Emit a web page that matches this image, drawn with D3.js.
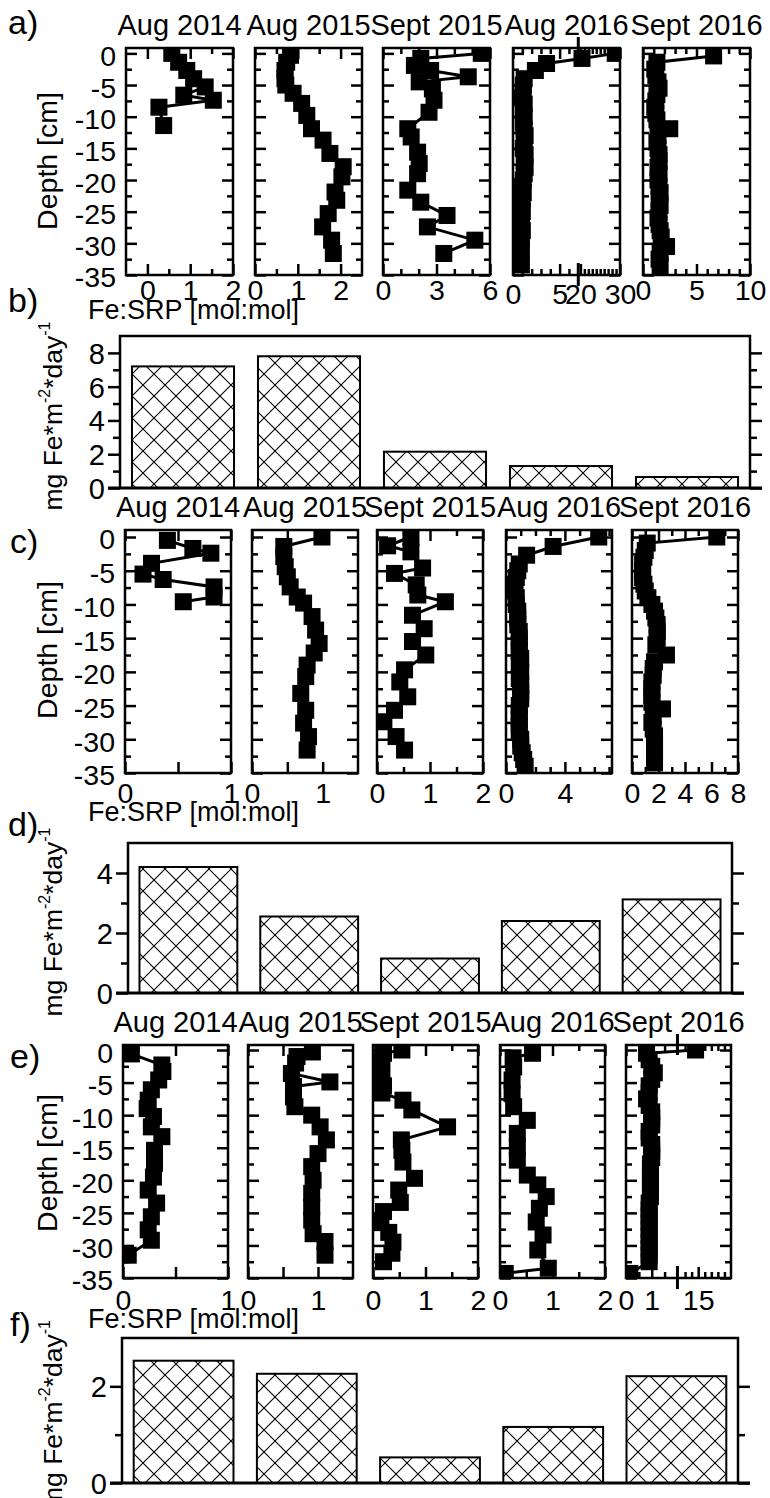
<!DOCTYPE html>
<html><head><meta charset="utf-8">
<script src="https://cdn.jsdelivr.net/npm/d3@7"></script>
<style>
body{margin:0;background:#fff}
svg text{font-family:"Liberation Sans",Arial,Helvetica,sans-serif;fill:#000}
</style>
</head><body>
<svg id="chart" width="770" height="1498"></svg>
<script>
// ---------------- DATA ----------------
const sampleTitles = ["Aug 2014","Aug 2015","Sept 2015","Aug 2016","Sept 2016"];
const depthTicks = [0,-5,-10,-15,-20,-25,-30,-35];
const depthMinorTicks = [-2.5,-7.5,-12.5,-17.5,-22.5,-27.5,-32.5];
const depthAxisLabel = "Depth [cm]";
const ratioAxisLabel = "Fe:SRP [mol:mol]";

// profiles: [depth (cm), Fe:SRP (mol:mol)]
const a_Aug2014 = [[0,0.57],[-1.4,0.73],[-2.7,0.92],[-4,1.08],[-5.3,1.35],[-6.6,0.85],[-7.4,1.54],[-8.5,0.27],[-11.4,0.38]];
const a_Aug2015 = [[-0.3,0.83],[-1.4,0.74],[-2.7,0.70],[-4,0.70],[-5,0.72],[-6.3,0.89],[-7.9,1.09],[-9.8,1.21],[-11.9,1.32],[-13.7,1.59],[-15.8,1.75],[-17.9,2.06],[-19.5,2.03],[-21.9,1.87],[-23.2,1.91],[-25.3,1.71],[-27.4,1.58],[-29.5,1.79],[-31.6,1.83]];
const a_Sept2015 = [[0,5.51],[-0.8,2.12],[-1.9,1.76],[-2.7,2.67],[-3.7,4.78],[-4.5,2.03],[-5.6,2.77],[-7.4,2.86],[-9.3,2.58],[-11.9,1.39],[-13.2,1.58],[-15.6,1.94],[-17.4,2.03],[-19,1.94],[-21.6,1.39],[-23.5,2.12],[-25.6,3.59],[-27.4,2.49],[-29.5,5.15],[-31.6,3.41]];
const a_Aug2016 = [[0,28.8],[-0.8,20.4],[-1.6,3.6],[-2.7,2.4],[-4,1.2],[-5,1.1],[-6,1.1],[-7,1.0],[-8,1.2],[-9,1.1],[-10,1.2],[-11,1.1],[-12,1.2],[-13,1.3],[-14,1.2],[-15,1.1],[-16,1.3],[-17,1.2],[-18,1.3],[-19,1.2],[-20,1.1],[-21,1.0],[-22,1.1],[-23,1.0],[-24,0.9],[-25,1.0],[-26,0.9],[-27,0.9],[-28,1.0],[-29,0.9],[-30,0.8],[-31,0.9],[-32,0.8],[-33.4,0.9]];
const a_Sept2016 = [[-0.4,6.6],[-1.4,1.3],[-2.5,1.1],[-3.5,1.2],[-4.5,1.4],[-5.5,1.5],[-6.5,1.3],[-7.5,1.2],[-8.5,1.1],[-9.5,1.2],[-10.5,1.3],[-11.9,2.5],[-13,1.4],[-14,1.3],[-15,1.4],[-16,1.5],[-17,1.5],[-18,1.4],[-19,1.5],[-20,1.4],[-21,1.5],[-22,1.6],[-23,1.5],[-24,1.6],[-25,1.5],[-26,1.4],[-27,1.5],[-28,1.6],[-29,1.7],[-30.5,2.2],[-31.5,1.6],[-32.5,1.5],[-33.5,1.6]];

const c_Aug2014 = [[-0.5,0.40],[-1.7,0.64],[-2.4,0.81],[-3.9,0.25],[-5.5,0.17],[-6.3,0.36],[-7.4,0.84],[-8.9,0.84],[-9.6,0.55]];
const c_Aug2015 = [[0,0.99],[-1.4,0.45],[-2.9,0.45],[-4.4,0.47],[-5.9,0.50],[-7.4,0.54],[-8.9,0.64],[-9.8,0.73],[-11.8,0.85],[-13.8,0.90],[-15.8,0.95],[-17.2,0.88],[-19,0.78],[-20.7,0.76],[-23.2,0.69],[-25.7,0.76],[-27.6,0.73],[-29.6,0.80],[-31.6,0.78]];
const c_Sept2015 = [[0,0.64],[-1.3,0.2],[-2.2,0.64],[-4.6,0.86],[-5.4,0.33],[-7.1,0.74],[-8.6,0.77],[-9.6,1.29],[-11.6,0.67],[-13.6,0.89],[-15.5,0.67],[-17.5,0.92],[-19.7,0.52],[-21.5,0.43],[-23.7,0.58],[-25.7,0.33],[-27.4,0.13],[-29.6,0.36],[-31.6,0.52]];
const c_Aug2016 = [[0,6.3],[-1.4,3.2],[-2.7,1.4],[-4,0.9],[-5,0.8],[-6,0.7],[-7,0.6],[-8,0.6],[-9,0.7],[-10,0.7],[-11,0.8],[-12,0.8],[-13,0.8],[-14,0.9],[-15,0.9],[-16,0.9],[-17,0.9],[-18,1.0],[-19,0.9],[-20,1.0],[-21,0.9],[-22,1.0],[-23,1.0],[-24,1.0],[-25,0.9],[-26,0.9],[-27,0.9],[-28,0.9],[-29,0.9],[-30,1.0],[-31,1.0],[-32,1.1],[-33,1.2],[-34,1.3]];
const c_Sept2016 = [[0,6.4],[-0.9,1.15],[-2,1.0],[-3,0.9],[-4,0.8],[-5,0.8],[-6,0.8],[-7,0.9],[-8,1.0],[-9,1.2],[-10,1.5],[-11,1.7],[-12,1.8],[-13,1.9],[-14,1.9],[-15,1.9],[-16,1.8],[-17.5,2.6],[-18.5,1.7],[-19.5,1.6],[-20.5,1.6],[-21.5,1.5],[-22.5,1.5],[-23.5,1.5],[-24.5,1.5],[-25.5,2.3],[-26.5,1.6],[-27.5,1.5],[-28.5,1.6],[-29.5,1.7],[-30.5,1.7],[-31.5,1.7],[-32.5,1.7],[-33.5,1.7]];

const e_Aug2014 = [[-0.6,0.08],[-2.3,0.37],[-3.3,0.38],[-4.6,0.34],[-6.1,0.27],[-7.7,0.24],[-9,0.23],[-10.2,0.29],[-11.8,0.27],[-13.3,0.37],[-15.4,0.30],[-17.4,0.30],[-19.5,0.29],[-21.5,0.24],[-23.5,0.32],[-25.6,0.27],[-27.6,0.24],[-29.2,0.27],[-31.5,0.05]];
const e_Aug2015 = [[-0.3,0.92],[-1,0.70],[-2,0.68],[-3.6,0.62],[-4.9,1.17],[-5.6,0.65],[-7.2,0.65],[-8.7,0.67],[-10,0.91],[-11.8,1.03],[-13.8,1.12],[-15.9,1.00],[-17.9,0.91],[-20,0.93],[-22,0.91],[-24.1,0.91],[-26.1,0.91],[-28.2,0.93],[-29.4,1.10],[-31.5,1.10]];
const e_Sept2015 = [[0,0.55],[-0.5,0.2],[-1.8,0.15],[-3,0.17],[-4.2,0.15],[-5.5,0.2],[-6.6,0.17],[-7.7,0.57],[-9.2,0.74],[-11.8,1.42],[-13.8,0.54],[-15.4,0.55],[-17.2,0.57],[-19.7,0.79],[-21.5,0.49],[-23.4,0.52],[-24.8,0.2],[-26.5,0.15],[-28,0.3],[-29.5,0.38],[-31.2,0.36],[-32.5,0.2]];
const e_Aug2016 = [[-0.5,0.62],[-1.2,0.25],[-2.6,0.26],[-4.6,0.23],[-6.7,0.23],[-8.7,0.26],[-10.8,0.52],[-12.8,0.33],[-14.9,0.33],[-16.9,0.33],[-19.2,0.52],[-20.7,0.72],[-22.5,0.88],[-24.3,0.75],[-26.4,0.69],[-28.4,0.82],[-30.7,0.72],[-33.5,0.92],[-34.3,0.10]];
const e_Sept2016 = [[0,14.6],[-0.5,0.8],[-1.5,0.9],[-2.5,1.0],[-3.5,1.1],[-4.5,1.0],[-5.5,0.9],[-6.5,0.9],[-7.5,0.8],[-8.5,0.9],[-9.5,1.0],[-10.5,1.0],[-11.5,1.0],[-12.5,0.9],[-13.5,0.9],[-14.5,1.0],[-15.5,1.0],[-16.5,1.0],[-17.5,0.95],[-18.5,0.95],[-19.5,0.95],[-20.5,0.95],[-21.5,0.95],[-22.5,0.95],[-23.5,0.9],[-24.5,0.9],[-25.5,0.9],[-26.5,0.9],[-27.5,0.9],[-28.5,0.9],[-29.5,0.9],[-30.5,0.9],[-31.5,0.9],[-32.5,0.9],[-34.3,0.15]];

// fluxes (mg Fe m-2 day-1)
const fluxB = [7.2, 7.8, 2.15, 1.3, 0.65];
const fluxD = [4.2, 2.55, 1.15, 2.4, 3.12];
const fluxF = [2.53, 2.26, 0.53, 1.16, 2.21];
const fluxTicksB = [0,2,4,6,8], fluxMinorB = [1,3,5,7];
const fluxTicksD = [0,2,4], fluxMinorD = [1,3];
const fluxTicksF = [0,2], fluxMinorF = [1];

// x tick labels per profile box
const aTickLabels = [[0,1,2],[0,1,2],[0,3,6],[0,5,20,30],[0,5,10]];
const cTickLabels = [[0,1],[0,1],[0,1,2],[0,4],[0,2,4,6,8]];
const eTickLabels = [[0,1],[0,1],[0,1,2],[0,1,2],[0,1,15]];

// ---------------- AXIS CONFIG ----------------
const aAxes = [
  {domain:[-0.5,2], major:[0,1,2], minor:[0.5,1.5], labels:aTickLabels[0]},
  {domain:[0,2.5], major:[0,1,2], minor:[0.5,1.5], labels:aTickLabels[1]},
  {domain:[0,6], major:[0,3,6], minor:[1,2,4,5], labels:aTickLabels[2]},
  {domain:[0,7,20,30], fracs:[0,0.61,0.63,1], major:[0,5,20,30], minor:[1,2,3,4,6,21,22,23,24,25,26,27,28,29], labels:aTickLabels[3], breakAt:7.1, labelDy:4},
  {domain:[0,10], major:[0,5,10], minor:[1,2,3,4,6,7,8,9], labels:aTickLabels[4]}
];
const cAxes = [
  {domain:[0,1], major:[0,0.5,1], minor:[], labels:cTickLabels[0]},
  {domain:[0,1.5], major:[0,0.5,1], minor:[], labels:cTickLabels[1]},
  {domain:[0,2], major:[0,1,2], minor:[0.5,1.5], labels:cTickLabels[2]},
  {domain:[0,7.2], major:[0,4], minor:[1,2,3,5,6,7], labels:cTickLabels[3]},
  {domain:[0,8], major:[0,2,4,6,8], minor:[1,3,5,7], labels:cTickLabels[4]}
];
const eAxes = [
  {domain:[0,1], major:[0,0.5,1], minor:[], labels:eTickLabels[0]},
  {domain:[0,1.5], major:[0,0.5,1], minor:[], labels:eTickLabels[1]},
  {domain:[0,2], major:[0,1,2], minor:[0.5,1.5], labels:eTickLabels[2]},
  {domain:[0,2], major:[0,1,2], minor:[0.5,1.5], labels:eTickLabels[3]},
  {domain:[0,2,12,20], fracs:[0,0.49,0.5,1], major:[0,1,15], minor:[0.5,1.5,13,14,16,17,18,19], labels:eTickLabels[4], breakAt:2.05}
];

const profileRows = [
  {letter:"a)", letterPos:[8,34], data:[a_Aug2014,a_Aug2015,a_Sept2015,a_Aug2016,a_Sept2016], axes:aAxes,
   lefts:[126,255,383,513,643], width:107, yDomain:[-35,0.85], yRange:[275,48],
   titleY:35, tickPad:5, ratioY:319, depthY:161},
  {letter:"c)", letterPos:[10,553], data:[c_Aug2014,c_Aug2015,c_Sept2015,c_Aug2016,c_Sept2016], axes:cAxes,
   lefts:[125,252,377,506,632], width:106, yDomain:[-35,1.04], yRange:[773,530],
   titleY:517, tickPad:10, ratioY:821, depthY:650},
  {letter:"e)", letterPos:[10,1068], data:[e_Aug2014,e_Aug2015,e_Sept2015,e_Aug2016,e_Sept2016], axes:eAxes,
   lefts:[123,248,373,500,626], width:105, yDomain:[-35,0.77], yRange:[1278,1045],
   titleY:1032, tickPad:12, ratioY:1328, depthY:1163}
];
const barRows = [
  {letter:"b)", letterPos:[8,312], values:fluxB, ticks:fluxTicksB, minor:fluxMinorB, frame:[120,750], yDomain:[0,9], yRange:[488,336]},
  {letter:"d)", letterPos:[8,836], values:fluxD, ticks:fluxTicksD, minor:fluxMinorD, frame:[128,732], yDomain:[0,5], yRange:[993,843]},
  {letter:"f)", letterPos:[10,1336], values:fluxF, ticks:fluxTicksF, minor:fluxMinorF, frame:[122,738], yDomain:[0,3], yRange:[1483,1338]}
];

// ---------------- DRAW ----------------
const svg = d3.select("#chart");
const defs = svg.append("defs");
const pat = defs.append("pattern").attr("id","xhatch").attr("patternUnits","userSpaceOnUse")
  .attr("width",22).attr("height",22);
pat.append("rect").attr("width",22).attr("height",22).attr("fill","#fff");
pat.append("path").attr("d","M-1,-1L23,23M-1,23L23,-1").attr("stroke","#000").attr("stroke-width",1.1).attr("fill","none");

const LW = 2.5;
let clipN = 0;

function styleAxis(g){
  g.select(".domain").remove();
  g.selectAll(".tick line").attr("stroke","#000").attr("stroke-width",LW);
  g.selectAll(".tick text").attr("font-size",28.5).attr("fill","#000");
  g.attr("font-family",null);
}

profileRows.forEach(row => {
  const y = d3.scaleLinear().domain(row.yDomain).range(row.yRange);
  const top = row.yRange[1], bot = row.yRange[0];
  const rg = svg.append("g");
  row.data.forEach((data, i) => {
    const ax = row.axes[i];
    const L = row.lefts[i], W = row.width, R = L + W;
    const x = d3.scaleLinear().domain(ax.domain)
      .range(ax.fracs ? ax.fracs.map(f => L + f*W) : [L, R]);
    const g = rg.append("g");
    // title
    g.append("text").attr("x", L + W/2).attr("y", row.titleY).attr("text-anchor","middle")
      .attr("font-size",29).text(sampleTitles[i]);
    // data (clipped)
    const cid = "clip" + (clipN++);
    defs.append("clipPath").attr("id",cid).append("rect")
      .attr("x",L).attr("y",top).attr("width",W).attr("height",bot-top);
    const dg = g.append("g").attr("clip-path",`url(#${cid})`);
    dg.append("path").datum(data)
      .attr("d", d3.line().x(d => x(d[1])).y(d => y(d[0])))
      .attr("fill","none").attr("stroke","#000").attr("stroke-width",3);
    dg.selectAll("rect").data(data).join("rect")
      .attr("x", d => x(d[1]) - 8.5).attr("y", d => y(d[0]) - 8.5)
      .attr("width",17).attr("height",17).attr("fill","#000");
    // x axes bottom (labels) and top
    const fmt = v => ax.labels.includes(v) ? String(v) : "";
    const gb = g.append("g").attr("transform",`translate(0,${bot})`)
      .call(d3.axisBottom(x).tickValues(ax.major).tickSize(-11).tickPadding(row.tickPad).tickFormat(fmt));
    styleAxis(gb);
    if (ax.labelDy) gb.selectAll(".tick text").attr("y", row.tickPad + ax.labelDy);
    const gbm = g.append("g").attr("transform",`translate(0,${bot})`)
      .call(d3.axisBottom(x).tickValues(ax.minor).tickSize(-6).tickFormat(""));
    styleAxis(gbm);
    const gt = g.append("g").attr("transform",`translate(0,${top})`)
      .call(d3.axisTop(x).tickValues(ax.major).tickSize(-11).tickFormat(""));
    styleAxis(gt);
    const gtm = g.append("g").attr("transform",`translate(0,${top})`)
      .call(d3.axisTop(x).tickValues(ax.minor).tickSize(-6).tickFormat(""));
    styleAxis(gtm);
    // y axes left/right (inward)
    const gl = g.append("g").attr("transform",`translate(${L},0)`)
      .call(d3.axisLeft(y).tickValues(depthTicks).tickSize(-11).tickPadding(10)
        .tickFormat(i === 0 ? d => String(d) : ""));
    styleAxis(gl);
    gl.selectAll(".tick text").attr("dy","0.42em");
    const glm = g.append("g").attr("transform",`translate(${L},0)`)
      .call(d3.axisLeft(y).tickValues(depthMinorTicks).tickSize(-6).tickFormat(""));
    styleAxis(glm);
    const gr = g.append("g").attr("transform",`translate(${R},0)`)
      .call(d3.axisRight(y).tickValues(depthTicks).tickSize(-11).tickFormat(""));
    styleAxis(gr);
    const grm = g.append("g").attr("transform",`translate(${R},0)`)
      .call(d3.axisRight(y).tickValues(depthMinorTicks).tickSize(-6).tickFormat(""));
    styleAxis(grm);
    // frame
    g.append("rect").attr("x",L).attr("y",top).attr("width",W).attr("height",bot-top)
      .attr("fill","none").attr("stroke","#000").attr("stroke-width",LW);
    // axis break mark
    if (ax.breakAt !== undefined) {
      const bx = x(ax.breakAt);
      g.append("line").attr("x1",bx).attr("x2",bx).attr("y1",top-11).attr("y2",top+10)
        .attr("stroke","#000").attr("stroke-width",3);
      g.append("line").attr("x1",bx).attr("x2",bx).attr("y1",bot-12).attr("y2",bot+11)
        .attr("stroke","#000").attr("stroke-width",3);
    }
  });
  // depth label
  rg.append("text").attr("transform",`translate(57,${row.depthY}) rotate(-90)`)
    .attr("text-anchor","middle").attr("font-size",28.5).text(depthAxisLabel);
  // ratio label
  rg.append("text").attr("x",88).attr("y",row.ratioY).attr("font-size",27).text(ratioAxisLabel);
  // panel letter
  rg.append("text").attr("x",row.letterPos[0]).attr("y",row.letterPos[1]).attr("font-size",34).text(row.letter);
});

barRows.forEach(row => {
  const [L, R] = row.frame;
  const top = row.yRange[1], base = row.yRange[0];
  const x = d3.scaleBand().domain(sampleTitles).range([L, R]).paddingInner(0.19).paddingOuter(0.095);
  const y = d3.scaleLinear().domain(row.yDomain).range(row.yRange);
  const g = svg.append("g");
  g.selectAll("rect.bar").data(row.values).join("rect").attr("class","bar")
    .attr("x",(d,i) => x(sampleTitles[i])).attr("width", x.bandwidth())
    .attr("y", d => y(d)).attr("height", d => base - y(d))
    .attr("fill","url(#xhatch)").attr("stroke","#000").attr("stroke-width",2);
  const gl = g.append("g").attr("transform",`translate(${L},0)`)
    .call(d3.axisLeft(y).tickValues(row.ticks).tickSize(12).tickPadding(3).tickFormat(d3.format("d")));
  styleAxis(gl);
  gl.selectAll(".tick text").attr("font-size",29).attr("dy","0.36em");
  const glm = g.append("g").attr("transform",`translate(${L},0)`)
    .call(d3.axisLeft(y).tickValues(row.minor).tickSize(7).tickFormat(""));
  styleAxis(glm);
  const gr = g.append("g").attr("transform",`translate(${R},0)`)
    .call(d3.axisRight(y).tickValues(row.ticks).tickSize(12).tickFormat(""));
  styleAxis(gr);
  const grm = g.append("g").attr("transform",`translate(${R},0)`)
    .call(d3.axisRight(y).tickValues(row.minor).tickSize(7).tickFormat(""));
  styleAxis(grm);
  // frame
  g.append("path").attr("d",`M${L},${base}V${top}H${R}V${base}`).attr("fill","none")
    .attr("stroke","#000").attr("stroke-width",LW);
  g.append("line").attr("x1",L-12).attr("x2",R+12).attr("y1",base).attr("y2",base)
    .attr("stroke","#000").attr("stroke-width",3);
  // y label with superscripts
  const cy = (top + base)/2 + 4;
  const t = g.append("text").attr("transform",`translate(62,${cy}) rotate(-90)`)
    .attr("text-anchor","middle").attr("font-size",26.5);
  t.append("tspan").text("mg Fe*m");
  t.append("tspan").attr("font-size",16).attr("dy",-12).text("-2");
  t.append("tspan").attr("dy",12).text("*day");
  t.append("tspan").attr("font-size",16).attr("dy",-12).text("-1");
  // letter
  g.append("text").attr("x",row.letterPos[0]).attr("y",row.letterPos[1]).attr("font-size",34).text(row.letter);
});
</script>
</body></html>
